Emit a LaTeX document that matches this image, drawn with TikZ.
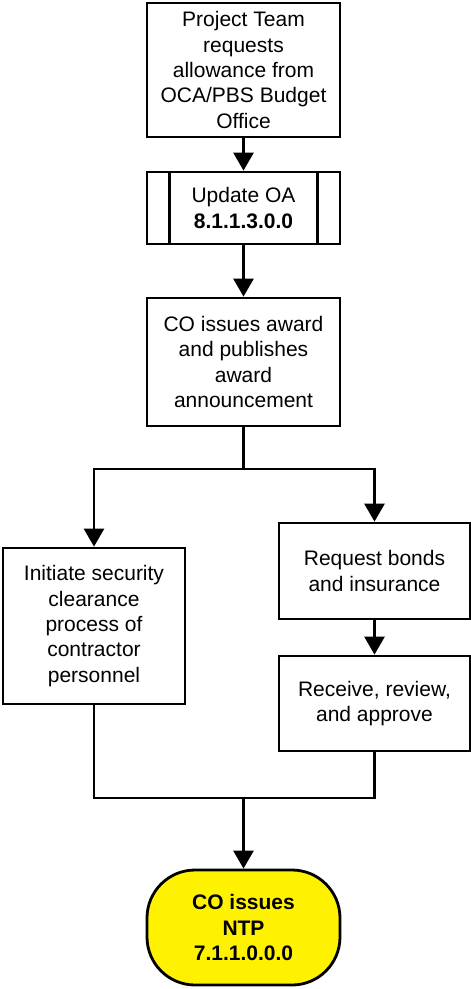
\documentclass[tikz,border=0pt]{standalone}
\usepackage{fontspec}
\setmainfont{Liberation Sans}
\usetikzlibrary{arrows.meta}
\begin{document}
\begin{tikzpicture}[x=1pt,y=-1pt,
  every node/.style={font=\fontsize{21}{25.3}\selectfont, align=center, inner sep=0pt},
  box/.style={draw, line width=2.8pt, fill=white},
  term/.style={draw, line width=2.8pt, fill=yellow, rounded corners=48pt, font=\fontsize{21}{25.3}\selectfont\bfseries},
  conn/.style={line width=2.8pt},
  arr/.style={line width=2.8pt, -{Triangle[length=18pt,width=20pt]}}
]
\useasboundingbox (0,0) rectangle (471,989);
\node[box, minimum width=193pt, minimum height=134pt] (b1) at (243.5,70) {Project Team\\requests\\allowance from\\OCA/PBS Budget\\Office};
\node[box, minimum width=193pt, minimum height=72pt] (b2) at (243.5,208) {Update OA\\\textbf{8.1.1.3.0.0}};
\draw[line width=2.8pt] ([xshift=24pt]b2.north west) -- ([xshift=24pt]b2.south west);
\draw[line width=2.8pt] ([xshift=-24pt]b2.north east) -- ([xshift=-24pt]b2.south east);
\node[box, minimum width=193pt, minimum height=128pt] (b3) at (243.5,362) {CO issues award\\and publishes\\award\\announcement};
\node[box, minimum width=182pt, minimum height=156pt] (b4) at (94,626) {Initiate security\\clearance\\process of\\contractor\\personnel};
\node[box, minimum width=191pt, minimum height=96pt] (b5) at (374.5,571) {Request bonds\\and insurance};
\node[box, minimum width=191pt, minimum height=95pt] (b6) at (374.5,703.5) {Receive, review,\\and approve};
\node[term, minimum width=193pt, minimum height=115pt] (t) at (243.5,927.5) {CO issues\\NTP\\7.1.1.0.0.0};
\coordinate (split) at (243.5,469);
\coordinate (merge) at (243.5,798);
\draw[arr] (b1.south) -- (b2.north);
\draw[arr] (b2.south) -- (b3.north);
\draw[conn] (b3.south) -- (split);
\draw[arr] (split) -| (b4.north);
\draw[arr] (split) -| (b5.north);
\draw[arr] (b5.south) -- (b6.north);
\draw[conn] (b4.south) |- (merge);
\draw[conn] (b6.south) |- (merge);
\draw[arr] (merge) -- (t.north);
\end{tikzpicture}
\end{document}
